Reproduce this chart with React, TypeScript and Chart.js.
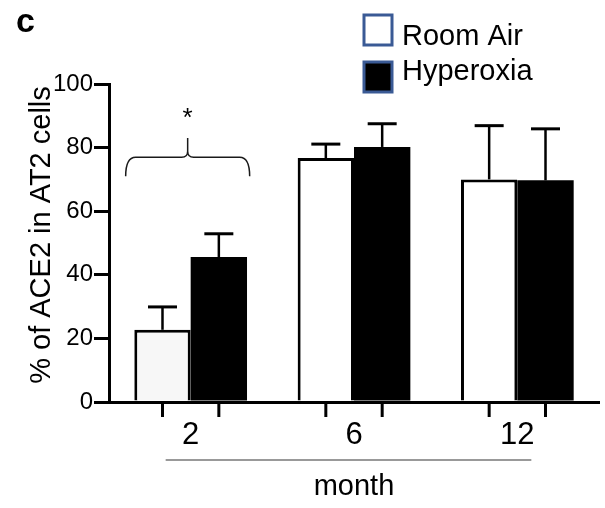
import React, { useEffect, useRef } from "react";
import { Chart, registerables } from "chart.js";

Chart.register(...registerables);

const months = ["2", "6", "12"];
const seriesNames = ["Room Air", "Hyperoxia"];
const roomAir = [22.7, 76.7, 70.0];
const roomAirErr = [7.2, 4.4, 16.9];
const hyperoxia = [45.6, 80.2, 69.7];
const hyperoxiaErr = [7.3, 7.3, 16.2];
const roomAirFill = ["#f7f7f7", "#ffffff", "#ffffff"];
const yTicks = [0, 20, 40, 60, 80, 100];
const yTitle = "% of ACE2 in AT2 cells";
const xTitle = "month";
const panelLabel = "c";
const sigMark = "*";
const bracketLevel = 77; // value level of the significance bracket
const bracketEnd = 71;
const bracketPeak = 83;
const starLevel = 90.5;

const FONT = "'Liberation Sans', Arial, Helvetica, sans-serif";

const errors = [roomAirErr, hyperoxiaErr];

const annotations = {
  id: "annotations",
  beforeDraw(chart: any) {
    const ctx = chart.ctx;
    ctx.save();
    ctx.fillStyle = "#ffffff";
    ctx.fillRect(0, 0, chart.width, chart.height);
    ctx.restore();
  },
  afterDatasetsDraw(chart: any) {
    const ctx = chart.ctx;
    const yScale = chart.scales.y;
    const area = chart.chartArea;
    ctx.save();
    ctx.strokeStyle = "#000";
    for (let d = 0; d < chart.data.datasets.length; d++) {
      const meta = chart.getDatasetMeta(d);
      const vals = chart.data.datasets[d].data as number[];
      meta.data.forEach((el: any, i: number) => {
        const yTop = yScale.getPixelForValue(vals[i] + errors[d][i]);
        const yBar = el.y;
        ctx.lineWidth = 2.5;
        ctx.beginPath();
        ctx.moveTo(el.x, yBar);
        ctx.lineTo(el.x, yTop);
        ctx.stroke();
        ctx.lineWidth = 3;
        ctx.beginPath();
        ctx.moveTo(el.x - 14.5, yTop);
        ctx.lineTo(el.x + 14.5, yTop);
        ctx.stroke();
        ctx.lineWidth = 3;
        ctx.beginPath();
        ctx.moveTo(el.x, area.bottom);
        ctx.lineTo(el.x, area.bottom + 15);
        ctx.stroke();
      });
    }
    ctx.restore();
  },
  afterDraw(chart: any) {
    const ctx = chart.ctx;
    const yScale = chart.scales.y;
    const xScale = chart.scales.x;
    const area = chart.chartArea;
    ctx.save();

    // panel label
    ctx.fillStyle = "#000";
    ctx.font = `bold 34px ${FONT}`;
    ctx.textAlign = "left";
    ctx.textBaseline = "alphabetic";
    ctx.fillText(panelLabel, 16, 32);

    // y axis title
    ctx.save();
    ctx.translate(42, 235);
    ctx.rotate(-Math.PI / 2);
    ctx.font = `29px ${FONT}`;
    ctx.textAlign = "center";
    ctx.textBaseline = "middle";
    ctx.fillText(yTitle, 0, 0);
    ctx.restore();

    // legend
    const boxX = 364;
    const rows = [
      { y: 15, fill: "#ffffff", text: seriesNames[0], base: 45 },
      { y: 62, fill: "#000000", text: seriesNames[1], base: 80 },
    ];
    rows.forEach((r) => {
      ctx.fillStyle = r.fill;
      ctx.fillRect(boxX, r.y, 28, 30);
      ctx.strokeStyle = "#3a5a95";
      ctx.lineWidth = 3;
      ctx.strokeRect(boxX, r.y, 28, 30);
      ctx.fillStyle = "#000";
      ctx.font = `29px ${FONT}`;
      ctx.textAlign = "left";
      ctx.fillText(r.text, 402, r.base);
    });

    // significance bracket over first group
    const m0 = chart.getDatasetMeta(0).data[0];
    const m1 = chart.getDatasetMeta(1).data[0];
    const cx = (m0.x + m1.x) / 2 - 3;
    const halfW = 62;
    const yH = yScale.getPixelForValue(bracketLevel);
    const yE = yScale.getPixelForValue(bracketEnd);
    const yP = yScale.getPixelForValue(bracketPeak);
    ctx.strokeStyle = "#1a1a1a";
    ctx.lineWidth = 1.5;
    ctx.beginPath();
    ctx.moveTo(cx - halfW, yE);
    ctx.quadraticCurveTo(cx - halfW, yH, cx - halfW + 10, yH);
    ctx.lineTo(cx - 6, yH);
    ctx.quadraticCurveTo(cx, yH, cx, yH - 6);
    ctx.lineTo(cx, yP);
    ctx.moveTo(cx, yH - 6);
    ctx.quadraticCurveTo(cx, yH, cx + 6, yH);
    ctx.lineTo(cx + halfW - 10, yH);
    ctx.quadraticCurveTo(cx + halfW, yH, cx + halfW, yE);
    ctx.stroke();

    // star
    ctx.fillStyle = "#000";
    ctx.font = `26px ${FONT}`;
    ctx.textAlign = "center";
    ctx.textBaseline = "alphabetic";
    ctx.fillText(sigMark, cx, yScale.getPixelForValue(starLevel) + 12);

    // grey line under the month tick labels
    const lx0 = xScale.getPixelForValue(0) - 25;
    const lx1 = xScale.getPixelForValue(months.length - 1) + 14;
    ctx.strokeStyle = "#999";
    ctx.lineWidth = 2;
    ctx.beginPath();
    ctx.moveTo(lx0, area.bottom + 58);
    ctx.lineTo(lx1, area.bottom + 58);
    ctx.stroke();

    ctx.restore();
  },
};

export default function App() {
  const ref = useRef<HTMLCanvasElement>(null);
  useEffect(() => {
    const chart = new Chart(ref.current!, {
      type: "bar",
      data: {
        labels: months,
        datasets: [
          {
            label: seriesNames[0],
            data: roomAir,
            backgroundColor: roomAirFill,
            borderColor: "#000",
            borderWidth: 3,
            borderSkipped: "start",
            categoryPercentage: 0.69,
            barPercentage: 1,
          },
          {
            label: seriesNames[1],
            data: hyperoxia,
            backgroundColor: "#000",
            borderColor: "#000",
            borderWidth: 0,
            borderSkipped: "start",
            categoryPercentage: 0.69,
            barPercentage: 1,
          },
        ],
      },
      options: {
        responsive: false,
        animation: false,
        devicePixelRatio: 1,
        layout: { padding: { top: 84, right: 6, left: 0, bottom: 0 } },
        plugins: {
          legend: { display: false },
          tooltip: { enabled: false },
        },
        scales: {
          x: {
            grid: { display: false, drawTicks: false },
            border: { display: true, color: "#000", width: 3 },
            ticks: { color: "#000", font: { family: FONT, size: 31 }, padding: 15 },
            title: {
              display: true,
              text: xTitle,
              color: "#000",
              font: { family: FONT, size: 29 },
              padding: { top: 0, bottom: 4 },
            },
            afterFit: (s: any) => {
              s.height = 106;
            },
          },
          y: {
            min: 0,
            max: 100,
            afterBuildTicks: (s: any) => {
              s.ticks = yTicks.map((v) => ({ value: v }));
            },
            ticks: { color: "#000", font: { family: FONT, size: 24 }, padding: 1 },
            grid: {
              drawOnChartArea: false,
              drawTicks: true,
              tickLength: 15,
              lineWidth: 3,
              color: "#000",
            },
            border: { display: true, color: "#000", width: 3 },
            title: { display: false },
            afterFit: (s: any) => {
              s.width = 109;
            },
          },
        },
      },
      plugins: [annotations],
    } as any);
    return () => chart.destroy();
  }, []);
  return (
    <div style={{ position: "absolute", left: 0, top: 0, width: 605, height: 508 }}>
      <canvas ref={ref} width={605} height={508} style={{ display: "block" }} />
    </div>
  );
}
